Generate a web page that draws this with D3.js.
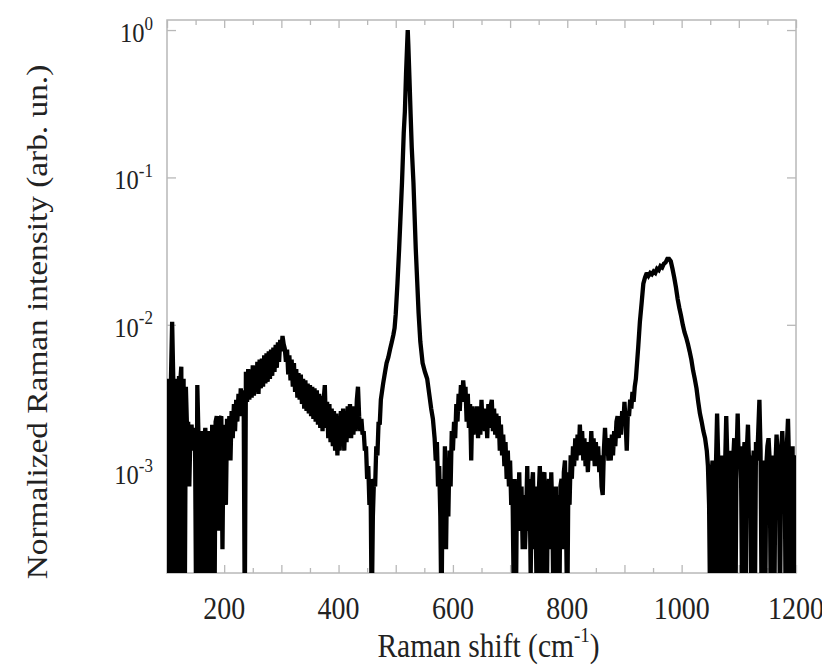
<!DOCTYPE html>
<html><head><meta charset="utf-8">
<script src="https://cdn.jsdelivr.net/npm/d3@7/dist/d3.min.js"></script>
<style>body{margin:0;background:#fff}</style>
</head><body>
<svg id="c" width="822" height="671"></svg>
<script>
// ---- data ----
const shift = [
100,101,103,105,107,109,111,113,115,117,119,121,123,125,127,129,131,133,135,137,139,141,143,145,147,149,151,153,155,157,159,161,163,165,167,169,171,173,175,177,179,181,183,185,187,189,191,193,195,197,199,201,203,205,207,209,211,213,215,217,219,221,223,225,227,229,231,234,236,
238,240,242,244,246,248,250,252,254,256,258,260,262,264,266,268,270,272,274,276,278,280,282,284,286,288,290,292,294,296,298,300,302,304,306,308,310,312,314,316,318,320,322,324,326,328,330,332,334,336,338,340,342,344,346,348,350,352,354,356,358,360,362,364,366,368,370,372,374,376,378,380,382,384,386,388,390,392,394,396,398,400,402,404,406,408,410,412,414,416,418,420,422,424,426,428,430,432,434,436,438,440,442,444,446,448,450,452,454,456,458,460,462,464,466,468,470,472,474,
478,481,484,487,490,493,496,498,500,503,506,508,511,514,516,518,520,521,522,524,526,528,531,533,535,538,540,543,547,551,555,559,562,565,568,570,572,574,576,578,
580,582,584,586,588,590,592,594,596,598,600,602,604,606,608,610,612,614,616,618,620,622,624,626,628,630,632,634,636,638,640,642,644,646,648,650,652,654,656,658,660,662,664,666,668,670,672,674,676,678,680,682,684,686,688,690,692,694,696,698,700,702,704,706,708,710,712,714,716,718,720,722,724,726,728,730,732,734,736,738,740,742,744,746,748,750,752,754,756,758,760,762,764,766,768,770,772,774,776,778,780,782,784,786,788,790,792,794,796,798,800,802,804,806,808,810,812,814,816,818,820,822,824,826,828,830,832,834,836,838,840,842,844,846,848,850,852,854,856,858,860,862,864,866,868,870,872,874,876,878,880,882,884,886,888,890,892,894,896,898,900,902,904,906,908,910,912,914,916,918,920,922,924,
927,930,933,936,939,942,945,948,951,954,957,960,963,966,969,972,975,978,981,984,987,990,993,996,999,1002,1005,1008,1011,1014,1017,1020,1023,1026,1029,1032,1035,1038,1041,1044,1046,1048,
1050,1052,1054,1056,1058,1060,1062,1064,1066,1068,1070,1072,1074,1076,1078,1080,1082,1084,1086,1088,1090,1092,1094,1096,1098,1100,1102,1104,1106,1108,1110,1112,1114,1116,1118,1120,1122,1124,1126,1128,1130,1132,1134,1136,1138,1140,1142,1144,1146,1148,1150,1152,1154,1156,1158,1160,1162,1164,1166,1168,1170,1172,1174,1176,1178,1180,1182,1184,1186,1188,1190,1192,1194,1196,1198,1200
];
const intensity = [
.0001,.0043,.0035,.0001,.0045,.0105,.0042,.0001,.0043,.0038,.0001,.0045,.004,.0052,.0001,.0043,.0001,.0038,.002,.0022,.0008,.0019,.0021,.0014,.002,.0018,.0001,.0039,.0018,.0001,.0017,.0019,.0001,.0016,.002,.0012,.0001,.0019,.0016,.0001,.0021,.0018,.0001,.0022,.0024,.0015,.0004,.0023,.0024,.0003,.0021,.0017,.0006,.0023,.0014,.0024,.0012,.0026,.0017,.0029,.0019,.0031,.0022,.0034,.0024,.0037,.0028,.0036,.0001,
.0048,.003,.005,.0031,.0049,.0032,.0053,.0033,.0052,.0035,.0056,.0034,.0058,.0037,.0059,.0038,.0062,.004,.0064,.0041,.0066,.0043,.0068,.0045,.007,.0048,.0073,.0051,.0076,.0056,.0079,.0066,.0084,.0074,.0069,.0056,
.0068,.0046,.0062,.0042,.0058,.0038,.0055,.0035,.005,.0032,.0047,.0031,.0046,.0029,.0043,.0027,.0042,.0026,.004,.0025,.0039,.0024,.0038,.0023,.0037,.0022,.0036,.0021,.0034,.002,.0033,.0019,.0031,.0039,.002,.003,.0017,.0029,.0016,.0027,.0015,.0026,.0014,.0025,.0013,.0024,.0014,.0026,.0015,.0027,.0014,.0026,.0016,.0028,.0017,.0029,.0017,.0028,.0018,.0027,.0019,.0031,
.0038,.0024,.0019,.0023,.0018,.0019,.0014,.0015,.0009,.0011,.0006,.0009,.0001,.0005,.0009,.0008,.0015,.0013,.0022,.0021,.0031,
.004,.0047,.0055,.006,.0068,.0076,.0086,.0095,.0118,.019,.033,.05,.093,.2,.28,.5,.8,1,.8,.47,.27,.16,.092,.055,.033,.018,.012,.0077,.0055,.0048,.0043,.0033,.0027,.0023,.0017,.0012,.0016,.0008,.0011,.0005,
.0001,.0009,.0004,.0015,.0003,.0011,.0005,.0014,.0008,.0019,.0014,.0022,.0017,.0029,.0022,.0034,.0026,.0039,.003,.0042,.0033,.0038,.0022,.0034,.002,.0029,.0012,.0028,.0018,.0027,.0019,.0028,.0017,.0026,.0018,.0031,.002,.0027,.0019,.0026,.0017,.0029,.002,.0028,.0031,.0019,.0027,.0018,.0025,.0017,.0024,.0014,.0021,.0013,.0018,.0011,.0016,.0009,.0014,.0008,.0012,.0006,.0009,.0002,.0009,.0001,.0008,.0005,.001,.0004,.0008,.0003,.0007,.0003,.0005,.0011,.0004,.0009,.0002,.0008,.001,.0003,.0008,.0002,.0001,.0007,.0011,.0005,.0002,.0009,.001,.0003,.0001,.0007,.0009,.0003,.001,.0005,.0001,.0006,.0008,.0001,.0007,.0001,.0008,.0009,.0003,.001,.0012,.0004,.0001,.001,.0006,.0013,.0009,.0015,.0011,.0017,.0012,.0018,.0013,.0021,.0014,.0019,.0012,.0017,.0011,.0016,.001,.0015,.0012,.0019,.0012,.0017,.0011,.0016,.0011,.0015,.001,.0013,.0008,.0007,.0014,.002,.0013,.0017,.0012,.0016,.0012,.0018,.0013,.0019,.0015,.0022,.0024,.0017,.0023,.0018,.0026,.0021,.003,.0022,.0014,.0026,.0024,.0031,.0027,.0035,.003,.0038,.0043,.0055,.007,
.0105,.014,.019,.021,.0225,.0215,.0225,.022,.023,.0225,.024,.0235,.025,.0245,.026,.0265,.028,.028,.027,.024,.021,.018,.015,.013,.0115,.01,.0089,.0082,.0074,.0066,.0058,.0049,.0043,.0037,.003,.0025,.0022,.0019,.0017,.0014,.0011,.0006,
.0001,.0009,.0012,.0001,.0001,.0011,.0025,.0012,.0001,.0001,.0013,.0007,.0001,.0011,.0024,.0012,.0001,.0014,.0009,.0001,.0012,.0017,.0001,.0013,.0025,.0011,.0015,.0009,.0001,.0012,.0016,.0001,.0014,.0021,.0011,.0013,.0001,.0009,.0014,.0001,.0016,.0012,.0019,.0031,.0014,.0001,.0012,.0009,.0001,.0011,.0015,.0017,.0012,.0001,.0013,.0006,.0001,.0011,.0018,.0013,.0015,.0001,.0014,.0019,.0012,.0016,.0001,.0015,.0023,.0011,.0001,.0012,.0015,.0001,.0013,.0011
];
const xTicks = [200, 400, 600, 800, 1000, 1200];
const xMinorTicks = d3.range(100, 1201, 50);
const yTickExps = [0, -1, -2, -3];
const xDomain = [100, 1200];
const yDomain = [2.07e-4, 1.17];
const xTitle = "Raman shift (cm";
const xTitleSup = "-1";
const yTitle = "Normalized Raman intensity (arb. un.)";

// ---- layout ----
const W = 822, H = 671;
const m = {l: 167, r: 26, t: 20, b: 98};
const FONT = "'Liberation Serif','Times New Roman',Times,serif";
const SY = 1.13; // vertical stretch of the reference's text
const axisColor = "#b8b8b8";
const textColor = "#222";

const svg = d3.select("#c");
const x = d3.scaleLinear().domain(xDomain).range([m.l, W - m.r]);
const y = d3.scaleLog().domain(yDomain).range([H - m.b, m.t]);

const n = Math.min(shift.length, intensity.length);
const data = d3.range(n).map(i => ({s: shift[i], v: intensity[i]}));

svg.append("defs").append("clipPath").attr("id", "clip")
  .append("rect").attr("x", m.l).attr("y", m.t)
  .attr("width", W - m.r - m.l).attr("height", H - m.b - m.t);

// frame
svg.append("rect").attr("x", m.l).attr("y", m.t)
  .attr("width", W - m.r - m.l).attr("height", H - m.b - m.t)
  .attr("fill", "none").attr("stroke", axisColor).attr("stroke-width", 1.5);

function styleAxis(g) {
  g.select(".domain").remove();
  g.selectAll(".tick line").attr("stroke", axisColor).attr("stroke-width", 1.3);
}
const tickLen = d => (d % 100 === 0 ? 8 : 5);

// x ticks bottom & top (inward)
const gb = svg.append("g").attr("transform", `translate(0,${H - m.b})`)
  .call(d3.axisBottom(x).tickValues(xMinorTicks).tickSize(0).tickFormat("")).call(styleAxis);
gb.selectAll(".tick line").attr("y2", d => -tickLen(d));
const gt = svg.append("g").attr("transform", `translate(0,${m.t})`)
  .call(d3.axisTop(x).tickValues(xMinorTicks).tickSize(0).tickFormat("")).call(styleAxis);
gt.selectAll(".tick line").attr("y2", d => tickLen(d));

// y ticks left & right (inward)
const yTickVals = yTickExps.map(e => Math.pow(10, e));
svg.append("g").attr("transform", `translate(${m.l},0)`)
  .call(d3.axisLeft(y).tickValues(yTickVals).tickSize(-9).tickFormat("")).call(styleAxis);
svg.append("g").attr("transform", `translate(${W - m.r},0)`)
  .call(d3.axisRight(y).tickValues(yTickVals).tickSize(-9).tickFormat("")).call(styleAxis);

// x tick labels
svg.append("g").selectAll("text").data(xTicks).join("text")
  .attr("transform", d => `translate(${x(d)},619) scale(1,${SY})`)
  .attr("text-anchor", "middle").attr("font-family", FONT).attr("font-size", 28)
  .attr("fill", textColor).text(d => d);

// y tick labels 10^e
const yl = svg.append("g").selectAll("text").data(yTickExps).join("text")
  .attr("transform", d => `translate(153,${y(Math.pow(10, d)) + 12}) scale(1,${SY})`)
  .attr("text-anchor", "end").attr("font-family", FONT).attr("fill", textColor);
yl.append("tspan").attr("font-size", 24.5).text("10");
yl.append("tspan").attr("font-size", 17).attr("dy", -11).text(d => String(d));

// x title
const xt = svg.append("text")
  .attr("transform", `translate(${(m.l + W - m.r) / 2 + 7},657) scale(1,${SY})`)
  .attr("text-anchor", "middle").attr("font-family", FONT).attr("font-size", 29.5).attr("fill", textColor);
xt.append("tspan").text(xTitle);
xt.append("tspan").attr("font-size", 19).attr("dy", -13).text(xTitleSup);
xt.append("tspan").attr("dy", 13).text(")");

// y title
svg.append("text")
  .attr("transform", `translate(47,322) scale(1,${SY}) rotate(-90)`)
  .attr("text-anchor", "middle").attr("font-family", FONT).attr("font-size", 29.5)
  .attr("fill", textColor).text(yTitle);

// spectrum
const line = d3.line().x(d => x(d.s)).y(d => y(d.v));
svg.append("path").datum(data)
  .attr("clip-path", "url(#clip)")
  .attr("fill", "none").attr("stroke", "#000").attr("stroke-width", 4.3)
  .attr("stroke-linejoin", "miter").attr("stroke-miterlimit", 2)
  .attr("d", line);
</script>
</body></html>
